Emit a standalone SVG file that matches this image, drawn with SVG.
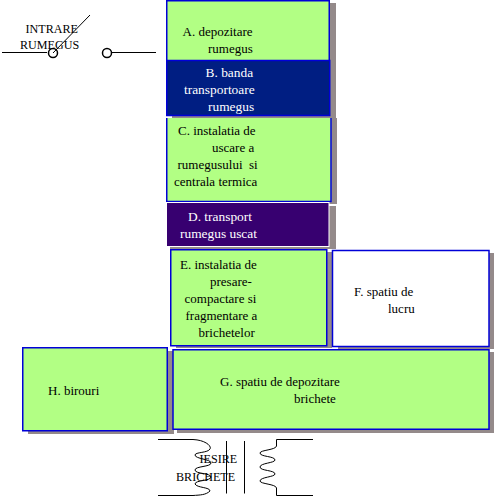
<svg xmlns="http://www.w3.org/2000/svg" width="504" height="499" viewBox="0 0 504 499">
<style>
text{font-family:"Liberation Serif","Times New Roman",serif;font-size:13px;fill:#000}
.c{font-size:12.100px}
.l{fill:#fff;font-size:13.400px}
.s{fill:#948a8a}
.g{fill:#b2ff84;stroke:#0000d8;stroke-width:1.5}
.w{fill:#fff;stroke:#0000d8;stroke-width:1.5}
.n{fill:none;stroke:#000;stroke-width:1}
</style>
<rect width="504" height="499" fill="#fff"/>
<g id="connectors">
<path class="n" d="M2 52.500H47M112 52.500H156M53 53L90 15"/>
<circle class="n" cx="53" cy="53" r="4.500" style="stroke-width:1.500"/>
<circle class="n" cx="107" cy="53" r="4.500" style="stroke-width:1.500"/>
<path class="n" d="M158 439.500H193C205 440 212 446 210 449C208 453 195 452 195 455C195 459 211 459 211 463C211 467 195 466 195 470C195 474 211 473 211 477C211 481 195 480 195 484C197 488 210 487 210 491C206 495 200 495 193 495.500H158"/>
<path class="n" d="M226.500 441V493.500M244.500 441V493.500"/>
<path class="n" d="M313 439.500H276.500V446C276 450 260 450 260 453C260 457 275 456 275 460C275 463 260 463 260 467C260 471 275 470 275 474C275 477 260 477 260 481C260 484 276 484 276.500 488V495.500H313"/>
</g>
<g id="intrare"><text class="c" x="25.500" y="33">INTRARE</text><text class="c" x="20" y="49">RUMEGUS</text></g>
<g id="nodeA">
<rect class="s" x="172" y="3" width="164" height="115"/>
<rect class="g" x="166.750" y="0.750" width="162.500" height="60"/>
<text x="182.500" y="36">A. depozitare</text><text x="208" y="53">rumegus</text>
</g>
<g id="nodeB">
<rect x="166.750" y="60.500" width="163" height="55" fill="#001e82" stroke="#0000d8" stroke-width="1.500"/>
<text class="l" x="205.500" y="77">B. banda</text><text class="l" x="184" y="94">transportoare</text><text class="l" x="208" y="111">rumegus</text>
</g>
<g id="nodeC">
<rect class="s" x="172" y="118" width="165" height="86"/>
<rect class="g" x="166.750" y="118" width="164.500" height="83.500" style="stroke:none"/>
<path d="M331 118V201.500H166.750V118" fill="none" stroke="#0000d8" stroke-width="1.500"/>
<text x="178" y="135">C. instalatia de</text><text x="212" y="152">uscare a</text><text x="177.500" y="169" style="white-space:pre">rumegusului  si</text><text x="174" y="186">centrala termica</text>
</g>
<g id="nodeD">
<rect class="s" x="170" y="206" width="166" height="43"/>
<rect x="166.500" y="202.500" width="162.500" height="44" fill="#370070" stroke="#fff"/>
<text class="l" x="188" y="221">D. transport</text><text class="l" x="180" y="238">rumegus uscat</text>
</g>
<g id="nodeE">
<rect class="s" x="176" y="252" width="156" height="96"/>
<rect class="g" x="170.750" y="249.750" width="156" height="96"/>
<text x="180" y="269">E. instalatia de</text><text x="210" y="286">presare-</text><text x="184.500" y="303">compactare si</text><text x="185.500" y="320">fragmentare a</text><text x="198.500" y="337">brichetelor</text>
</g>
<g id="nodeF">
<rect class="s" x="338" y="253" width="156" height="96"/>
<rect class="w" x="332.500" y="250.500" width="156.500" height="96"/>
<text x="354" y="296">F. spatiu de</text><text x="388" y="313">lucru</text>
</g>
<g id="nodeH">
<rect class="s" x="28" y="351" width="146" height="83"/>
<rect class="g" x="22.750" y="347.750" width="144.500" height="83"/>
<text x="48" y="395">H. birouri</text>
</g>
<g id="nodeG">
<rect class="s" x="177" y="352" width="317" height="81"/>
<rect class="g" x="173" y="349.750" width="316" height="79.500"/>
<text x="220" y="386">G. spatiu de depozitare</text><text x="294" y="403">brichete</text>
</g>
<g id="iesire"><text class="c" x="199.500" y="463">IESIRE</text><text class="c" x="176" y="481">BRICHETE</text></g>
</svg>
